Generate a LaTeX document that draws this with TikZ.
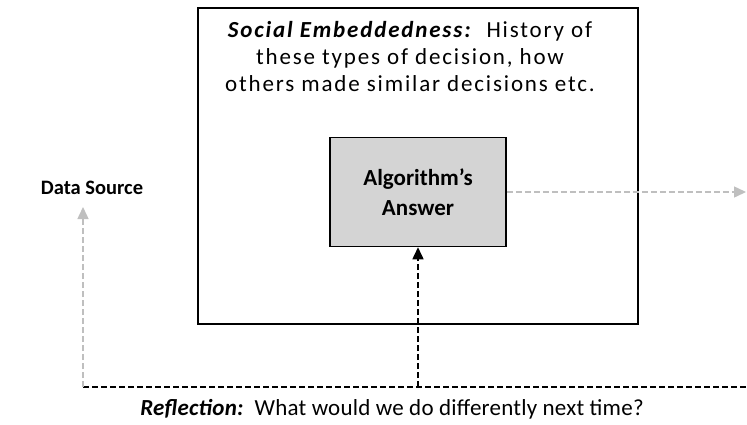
\documentclass[tikz,border=0pt]{standalone}
\usepackage{fontspec}
\setmainfont{Carlito}
\newfontfamily\spacedfont[LetterSpace=8]{Carlito}
\newfontfamily\slightfont[LetterSpace=1]{Carlito}
\usetikzlibrary{arrows.meta}
\begin{document}
\begin{tikzpicture}[x=1pt,y=-1pt,
  txt/.style={font=\fontsize{23}{27}\selectfont, inner sep=0pt, align=center},
  greyarrow/.style={draw=black!25, line width=1.5pt, dash pattern=on 6pt off 3pt, -{Triangle[length=12pt,width=11pt]}},
  blackarrow/.style={draw=black, line width=1.5pt, dash pattern=on 6pt off 3pt, -{Triangle[length=12pt,width=11pt]}},
  blackdash/.style={draw=black, line width=1.5pt, dash pattern=on 6pt off 3pt}]
\useasboundingbox (0,0) rectangle (747,424);
\node[draw=black, line width=1.5pt, minimum width=440pt, minimum height=316pt, inner sep=0pt] (outer) at (418,166) {};
\node[draw=black, line width=1.5pt, fill=black!17, minimum width=176pt, minimum height=109pt, inner sep=0pt] (inner) at (418,192) {};
\node[txt, font=\fontsize{23}{30}\selectfont\bfseries] (ans) at (418,192) {Algorithm’s\\Answer};
\node[txt, font=\spacedfont\fontsize{23}{27}\selectfont] (social) at (410,57) {\textbf{\textit{Social Embeddedness:}}\ \ History of\\these types of decision, how\\others made similar decisions etc.};
\node[txt, font=\fontsize{20.5}{27}\selectfont\bfseries] (data) at (92,188) {Data Source};
\node[txt, font=\slightfont\fontsize{23}{27}\selectfont] (refl) at (392,409) {\textbf{\textit{Reflection:}}\ \ What would we do differently next time?};
\coordinate (c1) at (83,387);
\coordinate (c2) at (418,387);
\coordinate (c3) at (747,387);
\coordinate (datatip) at (83,207);
\coordinate (righttip) at (746,192);
\draw[blackdash] (c1) -- (c3);
\draw[greyarrow] (c1) -- (datatip);
\draw[blackarrow] (c2) -- (inner.south);
\draw[greyarrow] (inner.east) -- (righttip);
\end{tikzpicture}
\end{document}
